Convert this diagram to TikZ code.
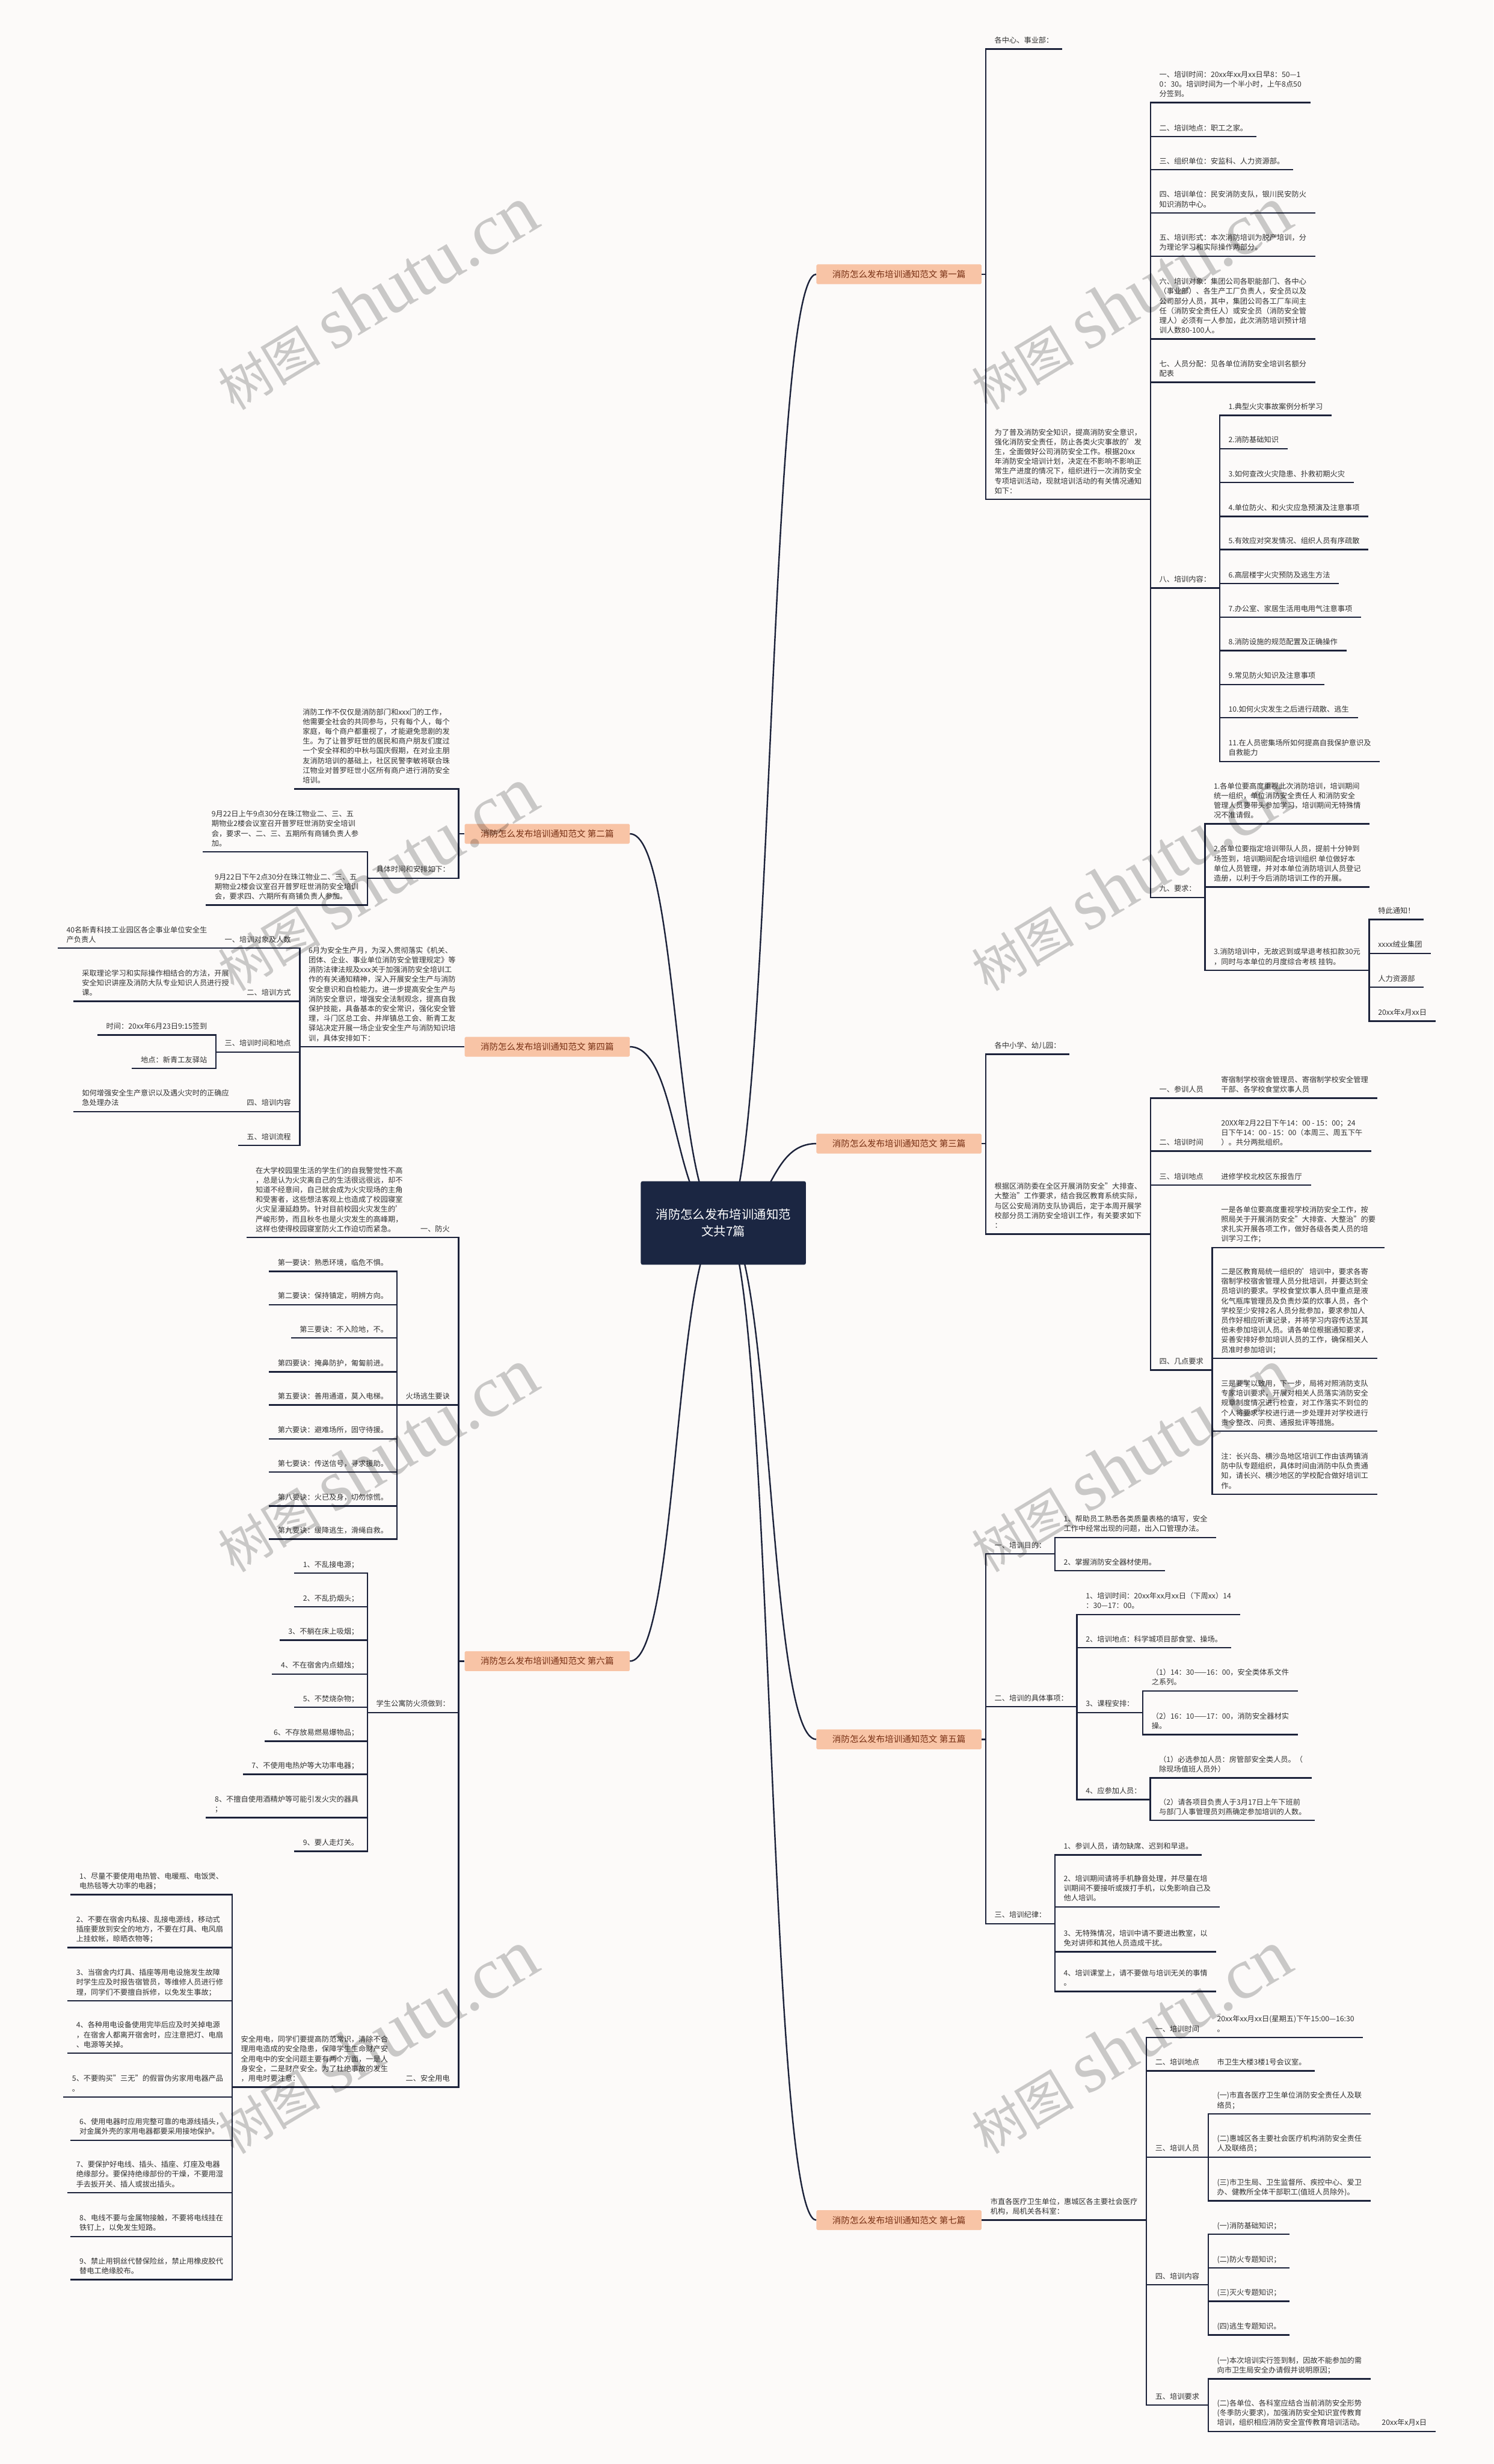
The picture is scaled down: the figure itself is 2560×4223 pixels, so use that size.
\documentclass[tikz,border=0pt]{standalone}
\usepackage{fontspec}
\setmainfont{Noto Sans CJK SC}
\newfontfamily\wmlatin{Liberation Serif}
\definecolor{linec}{RGB}{28,34,58}
\definecolor{navy}{RGB}{27,38,66}
\definecolor{salmon}{RGB}{248,196,166}
\definecolor{boxtext}{RGB}{120,48,20}
\definecolor{pagebg}{RGB}{252,250,249}
\definecolor{txt}{RGB}{50,50,50}
\pgfdeclarelayer{bg}\pgfdeclarelayer{fg}\pgfsetlayers{bg,main,fg}
\newcommand\tfont{\fontsize{12.6}{16.7}\selectfont}
\tikzset{
 ln/.style={draw=linec,line width=2.5pt},
 tn/.style={font=\tfont,text=txt,inner xsep=15pt,inner ysep=7pt,text depth=3pt,align=left},
 rnode/.style={tn,anchor=south west},
 lnode/.style={tn,anchor=south east},
 sec/.style={fill=salmon,text=boxtext,font=\fontsize{15}{18}\selectfont,minimum width=283pt,minimum height=34pt,inner sep=0pt,rounded corners=2pt},
 cnode/.style={fill=navy,text=white,font=\fontsize{21}{29}\selectfont,minimum width=283pt,minimum height=143pt,align=center,rounded corners=3pt},
 wm/.style={rotate=31,text=black,text opacity=0.2,inner sep=0pt}
}
\newcommand\rnd[4]{\node[rnode] (#1) at (#2 |- 0,#3) {#4};}
\newcommand\lnd[4]{\node[lnode] (#1) at (#2 |- 0,#3) {#4};}
\newcommand\rcon[2]{\draw[ln] (#1.south east) |- (#2.south west) -- (#2.south east);}
\newcommand\lcon[2]{\draw[ln] (#1.south west) |- (#2.south east) -- (#2.south west);}
\newcommand\rvcon[2]{\draw[ln] (#1) |- (#2.south west) -- (#2.south east);}
\newcommand\lvcon[2]{\draw[ln] (#1) |- (#2.south east) -- (#2.south west);}
\begin{document}
\begin{tikzpicture}[x=1pt,y=-1pt]
\useasboundingbox (0,0) rectangle (2560,4223);

% centre and sections
\node[cnode] (c) at (1240,2096) {消防怎么发布培训通知范\\文共7篇};
\node[sec] (s1) at (1541,470) {消防怎么发布培训通知范文 第一篇};
\node[sec] (s2) at (938,1429) {消防怎么发布培训通知范文 第二篇};
\node[sec] (s4) at (938,1794) {消防怎么发布培训通知范文 第四篇};
\node[sec] (s3) at (1541,1960) {消防怎么发布培训通知范文 第三篇};
\node[sec] (s6) at (938,2847) {消防怎么发布培训通知范文 第六篇};
\node[sec] (s5) at (1541,2981) {消防怎么发布培训通知范文 第五篇};
\node[sec] (s7) at (1541,3805) {消防怎么发布培训通知范文 第七篇};

% ===== Section 1
\coordinate (v1) at ([xshift=7pt]s1.east);
\draw[ln] (s1.east) -- (v1);
\rnd{a1}{v1}{84}{各中心、事业部：}
\rnd{a2}{v1}{856}{为了普及消防安全知识，提高消防安全意识，\\强化消防安全责任，防止各类火灾事故的'发\\生，全面做好公司消防安全工作。根据20xx\\年消防安全培训计划，决定在不影响不影响正\\常生产进度的情况下，组织进行一次消防安全\\专项培训活动，现就培训活动的有关情况通知\\如下：}
\rvcon{v1}{a1}\rvcon{v1}{a2}
\rnd{b1}{a2.south east}{176}{一、培训时间：20xx年xx月xx日早8：50—1\\0：30。培训时间为一个半小时，上午8点50\\分签到。}
\rnd{b2}{a2.south east}{234}{二、培训地点：职工之家。}
\rnd{b3}{a2.south east}{291}{三、组织单位：安监科、人力资源部。}
\rnd{b4}{a2.south east}{365}{四、培训单位：民安消防支队，银川民安防火\\知识消防中心。}
\rnd{b5}{a2.south east}{439}{五、培训形式：本次消防培训为脱产培训，分\\为理论学习和实际操作两部分。}
\rnd{b6}{a2.south east}{581}{六、培训对象：集团公司各职能部门、各中心\\（事业部）、各生产工厂负责人，安全员以及\\公司部分人员，其中，集团公司各工厂车间主\\任（消防安全责任人）或安全员（消防安全管\\理人）必须有一人参加，此次消防培训预计培\\训人数80-100人。}
\rnd{b7}{a2.south east}{655}{七、人员分配：见各单位消防安全培训名额分\\配表}
\rnd{b8}{a2.south east}{1008}{八、培训内容：}
\rnd{b9}{a2.south east}{1538}{九、要求：}
\foreach \n in {b1,b2,b3,b4,b5,b6,b7,b8,b9} {\rcon{a2}{\n}}
\rnd{c1}{b8.south east}{712}{1.典型火灾事故案例分析学习}
\rnd{c2}{b8.south east}{769}{2.消防基础知识}
\rnd{c3}{b8.south east}{827}{3.如何查改火灾隐患、扑救初期火灾}
\rnd{c4}{b8.south east}{885}{4.单位防火、和火灾应急预演及注意事项}
\rnd{c5}{b8.south east}{942}{5.有效应对突发情况、组织人员有序疏散}
\rnd{c6}{b8.south east}{1000}{6.高层楼宇火灾预防及逃生方法}
\rnd{c7}{b8.south east}{1058}{7.办公室、家居生活用电用气注意事项}
\rnd{c8}{b8.south east}{1115}{8.消防设施的规范配置及正确操作}
\rnd{c9}{b8.south east}{1173}{9.常见防火知识及注意事项}
\rnd{c10}{b8.south east}{1230}{10.如何火灾发生之后进行疏散、逃生}
\rnd{c11}{b8.south east}{1305}{11.在人员密集场所如何提高自我保护意识及\\自救能力}
\foreach \n in {c1,c2,c3,c4,c5,c6,c7,c8,c9,c10,c11} {\rcon{b8}{\n}}
\rnd{d1}{b9.south east}{1412}{1.各单位要高度重视此次消防培训，培训期间\\统一组织，单位消防安全责任人 和消防安全\\管理人员要带头参加学习，培训期间无特殊情\\况不准请假。}
\rnd{d2}{b9.south east}{1520}{2.各单位要指定培训带队人员，提前十分钟到\\场签到，培训期间配合培训组织 单位做好本\\单位人员管理，并对本单位消防培训人员登记\\造册，以利于今后消防培训工作的开展。}
\rnd{d3}{b9.south east}{1663}{3.消防培训中，无故迟到或早退考核扣款30元\\，同时与本单位的月度综合考核 挂钩。}
\foreach \n in {d1,d2,d3} {\rcon{b9}{\n}}
\rnd{e1}{d3.south east}{1576}{特此通知！}
\rnd{e2}{d3.south east}{1634}{xxxx绒业集团}
\rnd{e3}{d3.south east}{1692}{人力资源部}
\rnd{e4}{d3.south east}{1750}{20xx年x月xx日}
\foreach \n in {e1,e2,e3,e4} {\rcon{d3}{\n}}

% ===== Section 2
\coordinate (v2) at ([xshift=-10pt]s2.west);
\draw[ln] (s2.west) -- (v2);
\lnd{f1}{v2}{1352}{消防工作不仅仅是消防部门和xxx门的工作，\\他需要全社会的共同参与，只有每个人，每个\\家庭，每个商户都重视了，才能避免悲剧的发\\生。为了让普罗旺世的居民和商户朋友们度过\\一个安全祥和的中秋与国庆假期，在对业主朋\\友消防培训的基础上，社区民警李敏将联合珠\\江物业对普罗旺世小区所有商户进行消防安全\\培训。}
\lnd{f2}{v2}{1505}{具体时间和安排如下：}
\lvcon{v2}{f1}\lvcon{v2}{f2}
\lnd{g1}{f2.south west}{1460}{9月22日上午9点30分在珠江物业二、三、五\\期物业2楼会议室召开普罗旺世消防安全培训\\会，要求一、二、三、五期所有商铺负责人参\\加。}
\lnd{g2}{f2.south west}{1551}{9月22日下午2点30分在珠江物业二、三、五\\期物业2楼会议室召开普罗旺世消防安全培训\\会，要求四、六期所有商铺负责人参加。}
\lcon{f2}{g1}\lcon{f2}{g2}

% ===== Section 4
\node[lnode] (h0) at (s4.west) {6月为安全生产月，为深入贯彻落实《机关、\\团体、企业、事业单位消防安全管理规定》等\\消防法律法规及xxx关于加强消防安全培训工\\作的有关通知精神，深入开展安全生产与消防\\安全意识和自检能力。进一步提高安全生产与\\消防安全意识，增强安全法制观念，提高自我\\保护技能，具备基本的安全常识，强化安全管\\理，斗门区总工会、井岸镇总工会、新青工友\\驿站决定开展一场企业安全生产与消防知识培\\训，具体安排如下：};
\draw[ln] (h0.south east) -- (h0.south west);
\lnd{h1}{h0.south west}{1625}{一、培训对象及人数}
\lnd{h1a}{h1.south west}{1625}{40名新青科技工业园区各企事业单位安全生\\产负责人}
\lnd{h2}{h0.south west}{1716}{二、培训方式}
\lnd{h2a}{h2.south west}{1716}{采取理论学习和实际操作相结合的方法，开展\\安全知识讲座及消防大队专业知识人员进行授\\课。}
\lnd{h3}{h0.south west}{1803}{三、培训时间和地点}
\lnd{h3a}{h3.south west}{1774}{时间：20xx年6月23日9:15签到}
\lnd{h3b}{h3.south west}{1831}{地点：新青工友驿站}
\lnd{h4}{h0.south west}{1905}{四、培训内容}
\lnd{h4a}{h4.south west}{1905}{如何增强安全生产意识以及遇火灾时的正确应\\急处理办法}
\lnd{h5}{h0.south west}{1963}{五、培训流程}
\lcon{h0}{h1}\lcon{h1}{h1a}\lcon{h0}{h2}\lcon{h2}{h2a}\lcon{h0}{h3}
\lcon{h3}{h3a}\lcon{h3}{h3b}\lcon{h0}{h4}\lcon{h4}{h4a}\lcon{h0}{h5}

% ===== Section 3
\coordinate (v3) at ([xshift=7pt]s3.east);
\draw[ln] (s3.east) -- (v3);
\rnd{k1}{v3}{1807}{各中小学、幼儿园：}
\rnd{k2}{v3}{2115}{根据区消防委在全区开展消防安全"大排查、\\大整治"工作要求，结合我区教育系统实际，\\与区公安局消防支队协调后，定于本周开展学\\校部分员工消防安全培训工作，有关要求如下\\：}
\rvcon{v3}{k1}\rvcon{v3}{k2}
\rnd{m1}{k2.south east}{1882}{一、参训人员}
\rnd{m1a}{m1.south east}{1882}{寄宿制学校宿舍管理员、寄宿制学校安全管理\\干部、各学校食堂炊事人员}
\rnd{m2}{k2.south east}{1973}{二、培训时间}
\rnd{m2a}{m2.south east}{1973}{20XX年2月22日下午14：00 - 15：00；24\\日下午14：00 - 15：00（本周三、周五下午\\）。共分两批组织。}
\rnd{m3}{k2.south east}{2031}{三、培训地点}
\rnd{m3a}{m3.south east}{2031}{进修学校北校区东报告厅}
\rnd{m4}{k2.south east}{2348}{四、几点要求}
\rcon{k2}{m1}\rcon{m1}{m1a}\rcon{k2}{m2}\rcon{m2}{m2a}\rcon{k2}{m3}\rcon{m3}{m3a}\rcon{k2}{m4}
\rnd{n1}{m4.south east}{2138}{一是各单位要高度重视学校消防安全工作，按\\照局关于开展消防安全"大排查、大整治"的要\\求扎实开展各项工作，做好各级各类人员的培\\训学习工作；}
\rnd{n2}{m4.south east}{2328}{二是区教育局统一组织的'培训中，要求各寄\\宿制学校宿舍管理人员分批培训，并要达到全\\员培训的要求。学校食堂炊事人员中重点是液\\化气瓶库管理员及负责炒菜的炊事人员，各个\\学校至少安排2名人员分批参加，要求参加人\\员作好相应听课记录，并将学习内容传达至其\\他未参加培训人员。请各单位根据通知要求，\\妥善安排好参加培训人员的工作，确保相关人\\员准时参加培训；}
\rnd{n3}{m4.south east}{2453}{三是要学以致用，下一步，局将对照消防支队\\专家培训要求，开展对相关人员落实消防安全\\规章制度情况进行检查，对工作落实不到位的\\个人将要求学校进行进一步处理并对学校进行\\责令整改、问责、通报批评等措施。}
\rnd{n4}{m4.south east}{2561}{注：长兴岛、横沙岛地区培训工作由该两镇消\\防中队专题组织，具体时间由消防中队负责通\\知，请长兴、横沙地区的学校配合做好培训工\\作。}
\foreach \n in {n1,n2,n3,n4} {\rcon{m4}{\n}}

% ===== Section 6
\coordinate (v6) at ([xshift=-10pt]s6.west);
\draw[ln] (s6.west) -- (v6);
\lnd{q1}{v6}{2121}{一、防火}
\lnd{q1a}{q1.south west}{2121}{在大学校园里生活的学生们的自我警觉性不高\\，总是认为火灾离自己的生活很远很远，却不\\知道不经意间，自己就会成为火灾现场的主角\\和受害者，这些想法客观上也造成了校园寝室\\火灾呈漫延趋势。针对目前校园火灾发生的'\\严峻形势，而且秋冬也是火灾发生的高峰期，\\这样也使得校园寝室防火工作迫切而紧急。}
\lnd{q2}{v6}{2408}{火场逃生要诀}
\lnd{q3}{v6}{2935}{学生公寓防火须做到：}
\lnd{q4}{v6}{3577}{二、安全用电}
\lnd{q4a}{q4.south west}{3577}{安全用电，同学们要提高防范常识，清除不合\\理用电造成的安全隐患，保障学生生命财产安\\全用电中的安全问题主要有两个方面，一是人\\身安全，二是财产安全。为了杜绝事故的发生\\，用电时要注意：}
\lvcon{v6}{q1}\lvcon{v6}{q2}\lvcon{v6}{q3}\lvcon{v6}{q4}\lcon{q1}{q1a}\lcon{q4}{q4a}
\lnd{r1}{q2.south west}{2179}{第一要诀：熟悉环境，临危不惧。}
\lnd{r2}{q2.south west}{2236}{第二要诀：保持镇定，明辨方向。}
\lnd{r3}{q2.south west}{2293}{第三要诀：不入险地，不。}
\lnd{r4}{q2.south west}{2351}{第四要诀：掩鼻防护，匍匐前进。}
\lnd{r5}{q2.south west}{2408}{第五要诀：善用通道，莫入电梯。}
\lnd{r6}{q2.south west}{2466}{第六要诀：避难场所，固守待援。}
\lnd{r7}{q2.south west}{2523}{第七要诀：传送信号，寻求援助。}
\lnd{r8}{q2.south west}{2581}{第八要诀：火已及身，切勿惊慌。}
\lnd{r9}{q2.south west}{2638}{第九要诀：缓降逃生，滑绳自救。}
\foreach \n in {r1,r2,r3,r4,r5,r6,r7,r8,r9} {\lcon{q2}{\n}}
\lnd{u1}{q3.south west}{2696}{1、不乱接电源；}
\lnd{u2}{q3.south west}{2754}{2、不乱扔烟头；}
\lnd{u3}{q3.south west}{2811}{3、不躺在床上吸烟；}
\lnd{u4}{q3.south west}{2869}{4、不在宿舍内点蜡烛；}
\lnd{u5}{q3.south west}{2926}{5、不焚烧杂物；}
\lnd{u6}{q3.south west}{2984}{6、不存放易燃易爆物品；}
\lnd{u7}{q3.south west}{3041}{7、不使用电热炉等大功率电器；}
\lnd{u8}{q3.south west}{3115}{8、不擅自使用酒精炉等可能引发火灾的器具\\；}
\lnd{u9}{q3.south west}{3173}{9、要人走灯关。}
\foreach \n in {u1,u2,u3,u4,u5,u6,u7,u8,u9} {\lcon{q3}{\n}}
\lnd{w1}{q4a.south west}{3247}{1、尽量不要使用电热管、电暖瓶、电饭煲、\\电热毯等大功率的电器；}
\lnd{w2}{q4a.south west}{3338}{2、不要在宿舍内私接、乱接电源线，移动式\\插座要放到安全的地方，不要在灯具、电风扇\\上挂蚊帐，晾晒衣物等；}
\lnd{w3}{q4a.south west}{3429}{3、当宿舍内灯具、插座等用电设施发生故障\\时学生应及时报告宿管员，等维修人员进行修\\理，同学们不要擅自拆修，以免发生事故；}
\lnd{w4}{q4a.south west}{3519}{4、各种用电设备使用完毕后应及时关掉电源\\，在宿舍人都离开宿舍时，应注意把灯、电扇\\、电源等关掉。}
\lnd{w5}{q4a.south west}{3594}{5、不要购买"三无"的假冒伪劣家用电器产品\\。}
\lnd{w6}{q4a.south west}{3668}{6、使用电器时应用完整可靠的电源线插头，\\对金属外壳的家用电器都要采用接地保护。}
\lnd{w7}{q4a.south west}{3758}{7、要保护好电线、插头、插座、灯座及电器\\绝缘部分。要保持绝缘部份的干燥，不要用湿\\手去扳开关、插人或拔出插头。}
\lnd{w8}{q4a.south west}{3833}{8、电线不要与金属物接触，不要将电线挂在\\铁钉上，以免发生短路。}
\lnd{w9}{q4a.south west}{3907}{9、禁止用铜丝代替保险丝，禁止用橡皮胶代\\替电工绝缘胶布。}
\foreach \n in {w1,w2,w3,w4,w5,w6,w7,w8,w9} {\lcon{q4a}{\n}}

% ===== Section 5
\coordinate (v5) at ([xshift=7pt]s5.east);
\draw[ln] (s5.east) -- (v5);
\rnd{p1}{v5}{2663}{一、培训目的：}
\rnd{p2}{v5}{2925}{二、培训的具体事项：}
\rnd{p3}{v5}{3297}{三、培训纪律：}
\rvcon{v5}{p1}\rvcon{v5}{p2}\rvcon{v5}{p3}
\rnd{p1a}{p1.south east}{2635}{1、帮助员工熟悉各类质量表格的填写，安全\\工作中经常出现的问题，出入口管理办法。}
\rnd{p1b}{p1.south east}{2692}{2、掌握消防安全器材使用。}
\rcon{p1}{p1a}\rcon{p1}{p1b}
\rnd{p2a}{p2.south east}{2767}{1、培训时间：20xx年xx月xx日（下周xx）14\\：30—17：00。}
\rnd{p2b}{p2.south east}{2824}{2、培训地点：科学城项目部食堂、操场。}
\rnd{p2c}{p2.south east}{2935}{3、课程安排：}
\rnd{p2d}{p2.south east}{3084}{4、应参加人员：}
\rcon{p2}{p2a}\rcon{p2}{p2b}\rcon{p2}{p2c}\rcon{p2}{p2d}
\rnd{p2c1}{p2c.south east}{2898}{（1）14：30——16：00，安全类体系文件\\之系列。}
\rnd{p2c2}{p2c.south east}{2973}{（2）16：10——17：00，消防安全器材实\\操。}
\rcon{p2c}{p2c1}\rcon{p2c}{p2c2}
\rnd{p2d1}{p2d.south east}{3047}{（1）必选参加人员：房管部安全类人员。（\\除现场值班人员外）}
\rnd{p2d2}{p2d.south east}{3120}{（2）请各项目负责人于3月17日上午下班前\\与部门人事管理员刘燕确定参加培训的人数。}
\rcon{p2d}{p2d1}\rcon{p2d}{p2d2}
\rnd{p3a}{p3.south east}{3179}{1、参训人员，请勿缺席、迟到和早退。}
\rnd{p3b}{p3.south east}{3268}{2、培训期间请将手机静音处理，并尽量在培\\训期间不要接听或拨打手机，以免影响自己及\\他人培训。}
\rnd{p3c}{p3.south east}{3345}{3、无特殊情况，培训中请不要进出教室，以\\免对讲师和其他人员造成干扰。}
\rnd{p3d}{p3.south east}{3413}{4、培训课堂上，请不要做与培训无关的事情\\。}
\foreach \n in {p3a,p3b,p3c,p3d} {\rcon{p3}{\n}}

% ===== Section 7
\node[rnode] (t0) at (s7.east) {市直各医疗卫生单位，惠城区各主要社会医疗\\机构，局机关各科室：};
\draw[ln] (t0.south west) -- (t0.south east);
\rnd{t1}{t0.south east}{3492}{一、培训时间}
\rnd{t1a}{t1.south east}{3492}{20xx年xx月xx日(星期五)下午15:00—16:30\\。}
\rnd{t2}{t0.south east}{3549}{二、培训地点}
\rnd{t2a}{t2.south east}{3549}{市卫生大楼3楼1号会议室。}
\rnd{t3}{t0.south east}{3697}{三、培训人员}
\rnd{t4}{t0.south east}{3916}{四、培训内容}
\rnd{t5}{t0.south east}{4122}{五、培训要求}
\foreach \n in {t1,t2,t3,t4,t5} {\rcon{t0}{\n}}
\rcon{t1}{t1a}\rcon{t2}{t2a}
\rnd{t3a}{t3.south east}{3623}{(一)市直各医疗卫生单位消防安全责任人及联\\络员；}
\rnd{t3b}{t3.south east}{3697}{(二)惠城区各主要社会医疗机构消防安全责任\\人及联络员；}
\rnd{t3c}{t3.south east}{3772}{(三)市卫生局、卫生监督所、疾控中心、爱卫\\办、健教所全体干部职工(值班人员除外)。}
\foreach \n in {t3a,t3b,t3c} {\rcon{t3}{\n}}
\rnd{t4a}{t4.south east}{3829}{(一)消防基础知识；}
\rnd{t4b}{t4.south east}{3887}{(二)防火专题知识；}
\rnd{t4c}{t4.south east}{3944}{(三)灭火专题知识；}
\rnd{t4d}{t4.south east}{4002}{(四)逃生专题知识。}
\foreach \n in {t4a,t4b,t4c,t4d} {\rcon{t4}{\n}}
\rnd{t5a}{t5.south east}{4077}{(一)本次培训实行签到制，因故不能参加的需\\向市卫生局安全办请假并说明原因；}
\rnd{t5b}{t5.south east}{4167}{(二)各单位、各科室应结合当前消防安全形势\\(冬季防火要求)，加强消防安全知识宣传教育\\培训，组织相应消防安全宣传教育培训活动。}
\rnd{t5c}{t5b.south east}{4167}{20xx年x月x日}
\rcon{t5}{t5a}\rcon{t5}{t5b}\rcon{t5b}{t5c}

% background and curves
\begin{pgfonlayer}{bg}
\fill[pagebg] (0,0) rectangle (2560,4223);
\foreach \s in {s1,s3,s5,s7} {\draw[ln] (c.center) .. controls +(85,0) and +(-85,0) .. (\s.west);}
\foreach \s in {s2,s4,s6} {\draw[ln] (c.center) .. controls +(-85,0) and +(85,0) .. (\s.east);}
\end{pgfonlayer}

% watermarks
\begin{pgfonlayer}{fg}
\foreach \wx/\wy in {646/511,1938/511,646/1507,1938/1507,646/2503,1938/2503,646/3500,1938/3500}
 {\node[wm] at (\wx,\wy) {{\fontsize{88}{88}\selectfont 树图}\hspace{22pt}{\wmlatin\fontsize{125}{125}\selectfont shutu.cn}};}
\end{pgfonlayer}
\end{tikzpicture}
\end{document}
